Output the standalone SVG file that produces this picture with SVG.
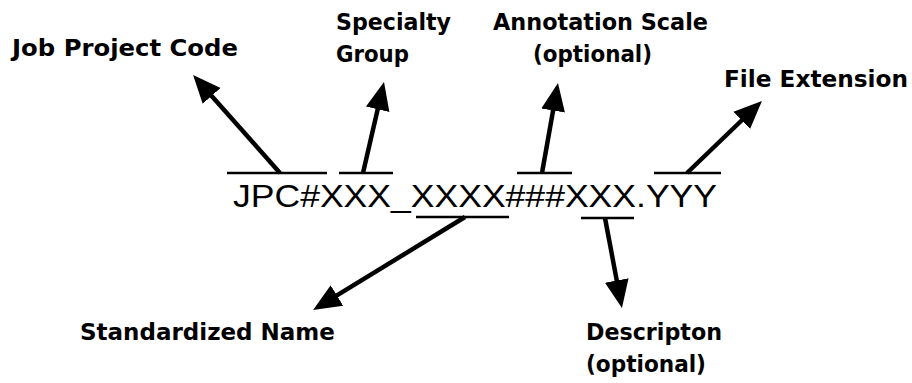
<svg xmlns="http://www.w3.org/2000/svg" width="912" height="383" viewBox="0 0 912 383">
  <style>
    .lbl { font-family: "DejaVu Sans", "Liberation Sans", sans-serif; font-weight: bold; font-size: 23px; fill: #000; }
    .code { font-family: "Liberation Sans", Arial, sans-serif; font-size: 31px; fill: #000; }
    .bar { stroke: #000; stroke-width: 2.5; fill: none; }
    .arr { stroke: #000; stroke-width: 4.5; fill: none; marker-end: url(#head); }
  </style>
  <defs>
    <marker id="head" markerUnits="userSpaceOnUse" markerWidth="30" markerHeight="26" refX="12" refY="13" orient="auto">
      <path d="M0,1 L28,13 L0,25 z" fill="#000"/>
    </marker>
  </defs>
  <rect width="912" height="383" fill="#fff"/>

  <g id="code">
    <text class="code" x="233" y="206.5" textLength="484" lengthAdjust="spacingAndGlyphs">JPC#XXX_XXXX###XXX.YYY</text>
  </g>

  <g id="job-project-code">
    <text class="lbl" x="12" y="56" textLength="226" lengthAdjust="spacingAndGlyphs">Job Project Code</text>
  </g>
  <g id="specialty-group">
    <text class="lbl" x="336" y="30" textLength="115" lengthAdjust="spacingAndGlyphs">Specialty</text>
    <text class="lbl" x="336" y="62" textLength="73" lengthAdjust="spacingAndGlyphs">Group</text>
  </g>
  <g id="annotation-scale">
    <text class="lbl" x="493" y="30" textLength="215" lengthAdjust="spacingAndGlyphs">Annotation Scale</text>
    <text class="lbl" x="533" y="62" textLength="119" lengthAdjust="spacingAndGlyphs">(optional)</text>
  </g>
  <g id="file-extension">
    <text class="lbl" x="724" y="87" textLength="184" lengthAdjust="spacingAndGlyphs">File Extension</text>
  </g>
  <g id="standardized-name">
    <text class="lbl" x="80" y="340">Standardized Name</text>
  </g>
  <g id="description">
    <text class="lbl" x="586" y="340" textLength="136" lengthAdjust="spacingAndGlyphs">Descripton</text>
    <text class="lbl" x="586" y="372" textLength="120" lengthAdjust="spacingAndGlyphs">(optional)</text>
  </g>

  <g id="connectors">
    <line class="bar" x1="227" y1="173" x2="327" y2="173"/>
    <line class="bar" x1="339" y1="173" x2="393" y2="173"/>
    <line class="bar" x1="517" y1="173" x2="572" y2="173"/>
    <line class="bar" x1="654" y1="173" x2="721" y2="173"/>
    <line class="bar" x1="416" y1="217" x2="509" y2="217"/>
    <line class="bar" x1="581" y1="218" x2="634" y2="218"/>
    <line class="arr" x1="280" y1="173" x2="203.7" y2="86.9"/>
    <line class="arr" x1="363" y1="173" x2="380.4" y2="97.6"/>
    <line class="arr" x1="542" y1="173" x2="555.2" y2="98.7"/>
    <line class="arr" x1="687" y1="173" x2="750.4" y2="112"/>
    <line class="arr" x1="465" y1="217" x2="326.7" y2="301.7"/>
    <line class="arr" x1="605" y1="218" x2="619" y2="292.3"/>
  </g>
</svg>
